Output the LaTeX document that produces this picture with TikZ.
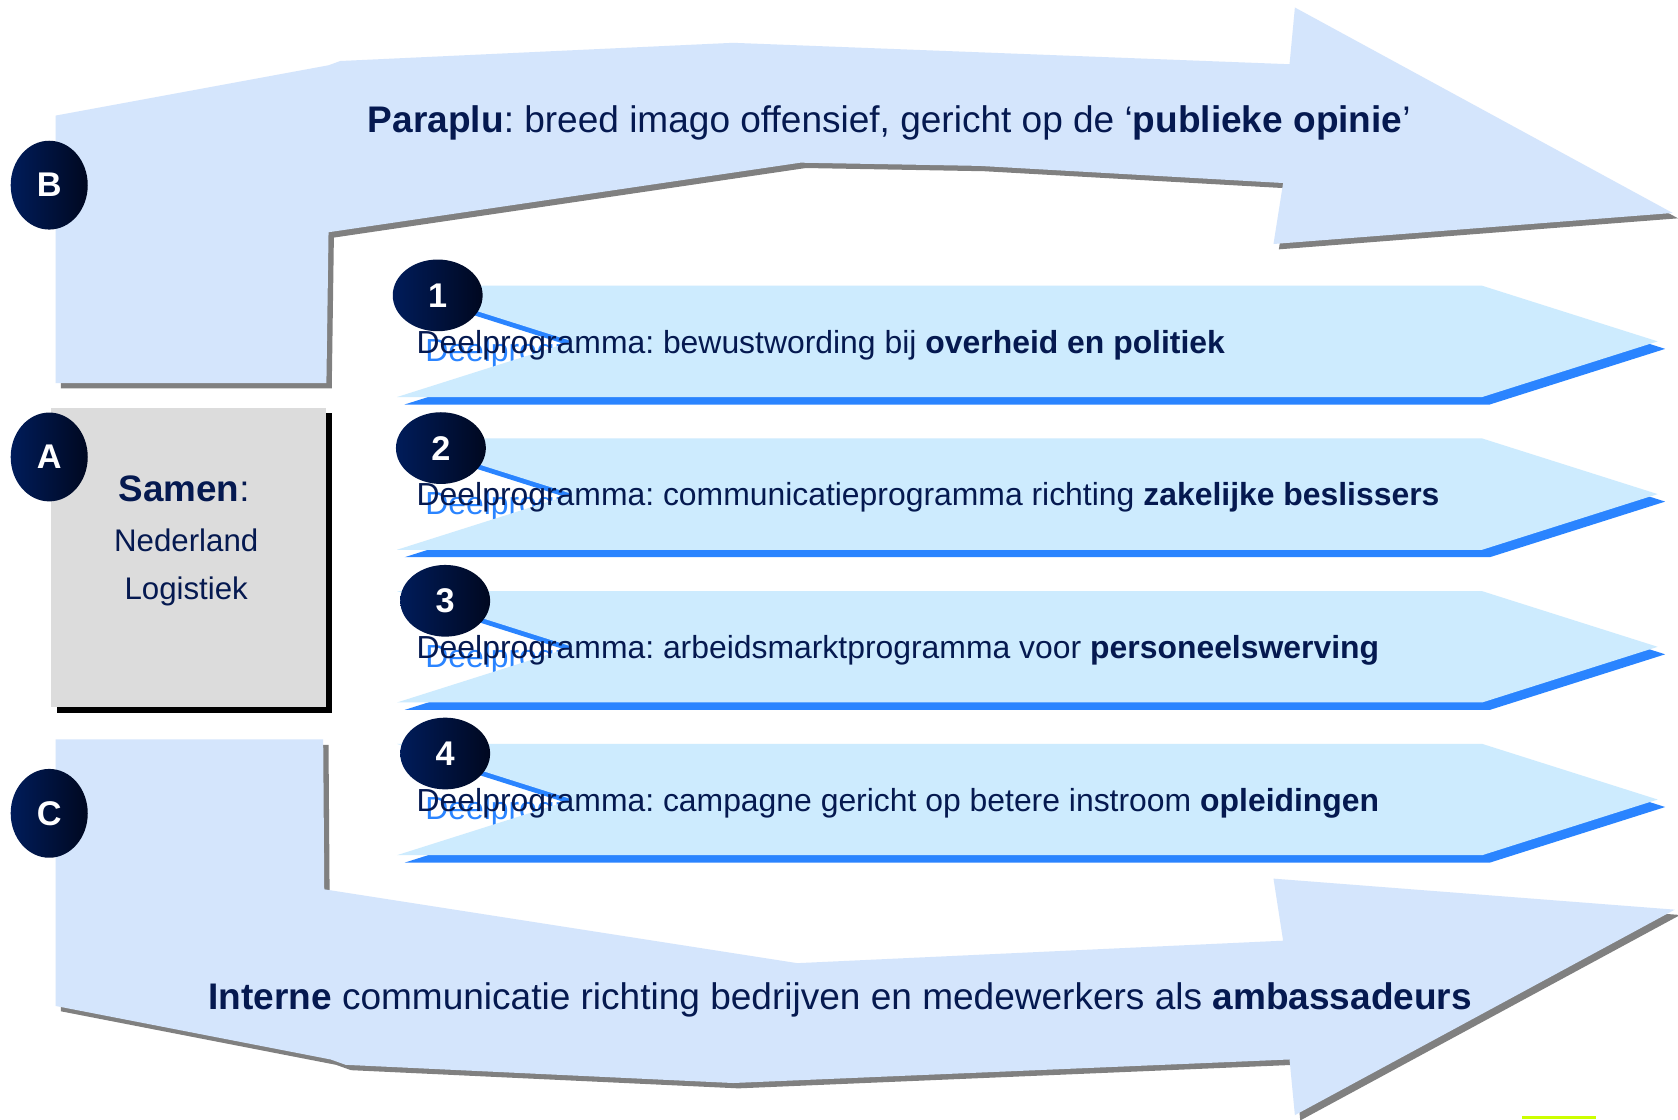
\documentclass[tikz,border=0pt]{standalone}
\usepackage{fontspec}
\setmainfont{Liberation Sans}
\usetikzlibrary{shapes.geometric}
\definecolor{navy}{RGB}{5,25,80}
\definecolor{bigfill}{RGB}{212,229,252}
\definecolor{progfill}{RGB}{205,235,254}
\definecolor{progshadow}{RGB}{42,132,255}
\definecolor{shadowgray}{RGB}{128,128,128}
\definecolor{boxgray}{RGB}{220,220,220}
\definecolor{badgeL}{RGB}{0,28,90}
\definecolor{badgeR}{RGB}{0,8,32}
\definecolor{limeline}{RGB}{204,255,0}
\frenchspacing
\newcommand\myShapeB{(52,108) -- (307,61) -- (318,57) -- (685,40) -- (1205,60) -- (1210,7) -- (1563,199) -- (1190,228) -- (1199,171) -- (915,155) -- (748,152) -- (307,217) -- (305,358) -- (52,358) -- cycle}
\newcommand\myShapeC{(52,691) -- (302,691) -- (303,831) -- (745,900) -- (1199,879) -- (1190,821) -- (1565,850) -- (1210,1042) -- (1205,990) -- (685,1012) -- (323,995) -- (309,990) -- (52,940) -- cycle}
\newcommand\myShapeP{(371,267) -- (1385,267) -- (1549,319) -- (1385,371) -- (371,371) -- (535,319) -- cycle}
\begin{document}
\frenchspacing
\begin{tikzpicture}[x=0.5pt,y=-0.5pt,
  badgebase/.style={ellipse, inner sep=0pt, left color=badgeL, right color=badgeR, text=white, font=\fontsize{16}{16}\selectfont\bfseries},
  bigbadge/.style={badgebase, minimum width=36pt, minimum height=41.5pt},
  smallbadge/.style={badgebase, minimum width=42pt, minimum height=33.5pt},
  bigtext/.style={anchor=base, inner sep=0pt, text=navy, font=\fontsize{17.3}{20}\selectfont\frenchspacing},
  progtext/.style={anchor=base west, inner sep=0pt, text=navy, font=\fontsize{14.9}{18}\selectfont\frenchspacing},
  ghosttext/.style={anchor=base west, inner sep=0pt, text=progshadow, font=\fontsize{14.9}{18}\selectfont},
  boxtext/.style={anchor=base, inner sep=0pt, text=navy, font=\fontsize{14.6}{18}\selectfont}]
\useasboundingbox (0,0) rectangle (1568,1046);
\fill[white] (0,0) rectangle (1568,1046);

% Arrow B (Paraplu)
\fill[shadowgray, shift={(5,5)}] \myShapeB;
\fill[bigfill] \myShapeB;
\node[bigtext] (paraplu) at (831,124) {\textbf{Paraplu}: breed imago offensief, gericht op de ‘\textbf{publieke opinie}’};

% Arrow C (Interne)
\fill[shadowgray, shift={(5,5)}] \myShapeC;
\fill[bigfill] \myShapeC;
\node[bigtext] (interne) at (785,943) {\textbf{Interne} communicatie richting bedrijven en medewerkers als \textbf{ambassadeurs}};

% Box A
\fill[black] (53,386) rectangle (310,666);
\fill[boxgray] (48,381) rectangle (305,661);
\node[boxtext, font=\fontsize{17.2}{20}\selectfont] (samen) at (172,469) {\textbf{Samen}:};
\node[boxtext] (nederland) at (174,515) {Nederland};
\node[boxtext] (logistiek) at (174,560) {Logistiek};

% Programme arrows
\foreach \k/\bx/\rest/\bld in {0/409/{bewustwording bij }/{overheid en politiek},
                               1/412/{communicatieprogramma richting }/{zakelijke beslissers},
                               2/416/{arbeidsmarktprogramma voor }/{personeelswerving},
                               3/416/{campagne gericht op betere instroom }/{opleidingen}} {
  \begin{scope}[shift={(0,142.7*\k)}]
    \fill[progshadow, shift={(7,7)}] \myShapeP;
    \node[ghosttext] (ghost\k) at (397,338) {Deelprogramma};
    \fill[progfill] \myShapeP;
    \node[progtext] (prog\k) at (389,330) {Deelprogramma: \rest\textbf{\bld}};
  \end{scope}
}
\node[smallbadge] (num1) at (409,276) {1};
\node[smallbadge] (num2) at (412,418.7) {2};
\node[smallbadge] (num3) at (416,561.4) {3};
\node[smallbadge] (num4) at (416,704.1) {4};

% Letter badges
\node[bigbadge] (badgeB) at (46,173) {B};
\node[bigbadge] (badgeA) at (46,427) {A};
\node[bigbadge] (badgeC) at (46,760) {C};

% small lime mark
\fill[limeline] (1422,1043) rectangle (1491,1046);
\end{tikzpicture}
\end{document}
